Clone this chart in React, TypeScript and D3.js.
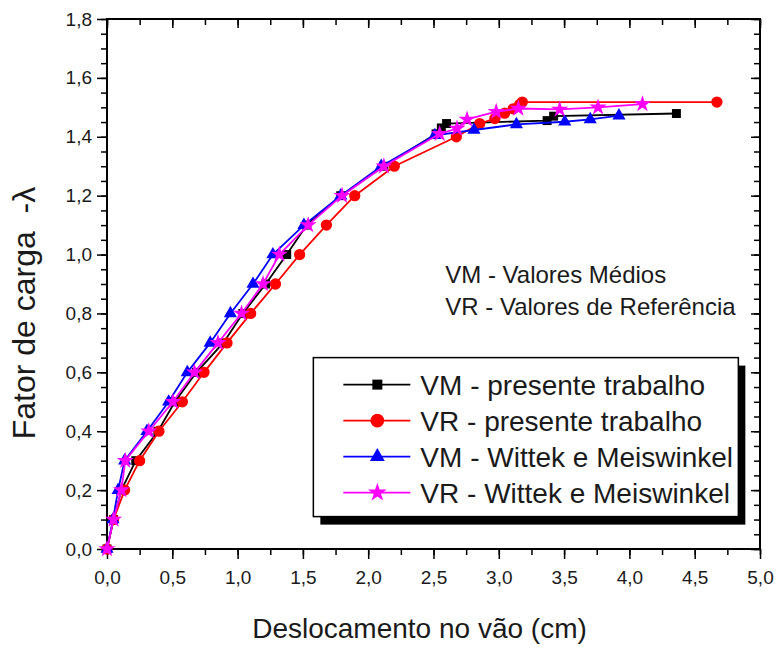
import { useRef, useEffect } from 'react'
import * as d3 from 'd3'

const W = 777
const H = 650
const MARGIN = { top: 19, right: 17, bottom: 101, left: 107 }
const FONT = '"Liberation Sans", Arial, sans-serif'

// tick labels
const X_TICKS = [0, 0.5, 1.0, 1.5, 2.0, 2.5, 3.0, 3.5, 4.0, 4.5, 5.0]
const Y_TICKS = [0, 0.2, 0.4, 0.6, 0.8, 1.0, 1.2, 1.4, 1.6, 1.8]

// VM - presente trabalho
const vmPresX = [0, 0.05, 0.11, 0.22, 0.39, 0.52, 0.685, 0.89, 1.04, 1.215, 1.376, 1.53, 1.79, 2.12, 2.52, 2.56, 2.6, 3.37, 3.42, 4.36]
const vmPresY = [0, 0.1, 0.2, 0.3, 0.4, 0.5, 0.6, 0.7, 0.8, 0.9, 1.0, 1.1, 1.2, 1.3, 1.41, 1.43, 1.445, 1.455, 1.47, 1.479]

// VR - presente trabalho
const vrPresX = [0, 0.05, 0.135, 0.25, 0.398, 0.577, 0.743, 0.919, 1.1, 1.29, 1.475, 1.68, 1.897, 2.2, 2.675, 2.854, 2.97, 3.045, 3.11, 3.16, 3.18, 4.67]
const vrPresY = [0, 0.1, 0.2, 0.3, 0.4, 0.5, 0.6, 0.7, 0.8, 0.9, 1.0, 1.1, 1.2, 1.3, 1.4, 1.445, 1.462, 1.48, 1.495, 1.51, 1.518, 1.518]

// VM - Wittek e Meiswinkel
const vmWitX = [0, 0.046, 0.085, 0.135, 0.306, 0.472, 0.615, 0.79, 0.945, 1.118, 1.27, 1.508, 1.79, 2.1, 2.51, 2.81, 3.135, 3.505, 3.7, 3.92]
const vmWitY = [0, 0.1, 0.2, 0.3, 0.4, 0.5, 0.6, 0.7, 0.8, 0.9, 1.0, 1.1, 1.2, 1.3, 1.405, 1.423, 1.442, 1.451, 1.459, 1.472]

// VR - Wittek e Meiswinkel
const vrWitX = [0, 0.05, 0.11, 0.14, 0.32, 0.505, 0.67, 0.85, 1.03, 1.195, 1.32, 1.54, 1.8, 2.12, 2.547, 2.68, 2.757, 2.98, 3.15, 3.466, 3.76, 4.1]
const vrWitY = [0, 0.1, 0.2, 0.3, 0.4, 0.5, 0.6, 0.7, 0.8, 0.9, 1.0, 1.1, 1.2, 1.3, 1.41, 1.428, 1.459, 1.485, 1.496, 1.493, 1.5, 1.511]

const SERIES = [
  { label: 'VM - presente trabalho', xs: vmPresX, ys: vmPresY, color: '#000000', symbol: d3.symbolSquare, size: 80, legendSize: 100 },
  { label: 'VR - presente trabalho', xs: vrPresX, ys: vrPresY, color: '#ff0000', symbol: d3.symbolCircle, size: 100, legendSize: 150 },
  { label: 'VM - Wittek e Meiswinkel', xs: vmWitX, ys: vmWitY, color: '#0000ff', symbol: d3.symbolTriangle, size: 75, legendSize: 95 },
  { label: 'VR - Wittek e Meiswinkel', xs: vrWitX, ys: vrWitY, color: '#ff00ff', symbol: d3.symbolStar, size: 90, legendSize: 110 },
]

const fmt = (d: number) => d.toFixed(1).replace('.', ',')

export default function App() {
  const svgRef = useRef<SVGSVGElement>(null)

  useEffect(() => {
    const svg = d3.select(svgRef.current)
    svg.selectAll('*').remove()

    const iw = W - MARGIN.left - MARGIN.right
    const ih = H - MARGIN.top - MARGIN.bottom
    const x = d3.scaleLinear().domain([0, 5]).range([0, iw])
    const y = d3.scaleLinear().domain([0, 1.8]).range([ih, 0])

    const g = svg.append('g').attr('transform', `translate(${MARGIN.left},${MARGIN.top})`)

    const xMinor = d3.range(0, 21).map(i => i * 0.25)
    const yMinor = d3.range(0, 37).map(i => i * 0.05)

    const style = (sel: any) => {
      sel.select('.domain').remove()
      sel.selectAll('line').attr('stroke', '#000').attr('stroke-width', 1.5)
      sel.selectAll('text').attr('font-family', FONT).attr('font-size', 19).attr('fill', '#1a1a1a')
    }

    // minor ticks
    g.append('g').attr('transform', `translate(0,${ih})`)
      .call(d3.axisBottom(x).tickValues(xMinor).tickSize(6).tickFormat(() => ''))
      .call(style)
    g.append('g')
      .call(d3.axisLeft(y).tickValues(yMinor).tickSize(6).tickFormat(() => ''))
      .call(style)
    g.append('g')
      .call(d3.axisTop(x).tickValues(xMinor).tickSize(-6).tickFormat(() => ''))
      .call(style)
    g.append('g').attr('transform', `translate(${iw},0)`)
      .call(d3.axisRight(y).tickValues(yMinor).tickSize(-6).tickFormat(() => ''))
      .call(style)

    // major ticks + labels
    g.append('g').attr('transform', `translate(0,${ih})`)
      .call(d3.axisBottom(x).tickValues(X_TICKS).tickSize(10).tickPadding(12).tickFormat(d => fmt(+d)))
      .call(style)
    g.append('g')
      .call(d3.axisLeft(y).tickValues(Y_TICKS).tickSize(10).tickPadding(5).tickFormat(d => fmt(+d)))
      .call(style)
    g.append('g')
      .call(d3.axisTop(x).tickValues(X_TICKS).tickSize(-9).tickFormat(() => ''))
      .call(style)
    g.append('g').attr('transform', `translate(${iw},0)`)
      .call(d3.axisRight(y).tickValues(Y_TICKS).tickSize(-9).tickFormat(() => ''))
      .call(style)

    // frame
    g.append('rect').attr('width', iw).attr('height', ih)
      .attr('fill', 'none').attr('stroke', '#000').attr('stroke-width', 2)

    // annotation
    const note = g.append('g').attr('font-family', FONT).attr('font-size', 24).attr('fill', '#1a1a1a')
    note.append('text').attr('x', x(2.59)).attr('y', y(0.904)).text('VM - Valores Médios')
    note.append('text').attr('x', x(2.59)).attr('y', y(0.795)).text('VR - Valores de Referência')

    // series
    const line = d3.line<[number, number]>().x(d => x(d[0])).y(d => y(d[1]))
    SERIES.forEach(s => {
      const pts: [number, number][] = s.xs.map((v, i) => [v, s.ys[i]])
      g.append('path').datum(pts).attr('d', line)
        .attr('fill', 'none').attr('stroke', s.color).attr('stroke-width', 1.8)
      g.append('g').selectAll('path').data(pts).join('path')
        .attr('transform', d => `translate(${x(d[0])},${y(d[1])})`)
        .attr('d', d3.symbol().type(s.symbol).size(s.size)())
        .attr('fill', s.color)
    })

    // legend
    const lx = x(1.58), ly = y(0.65), lw = 425, lh = 159
    const leg = g.append('g').attr('transform', `translate(${lx},${ly})`)
    leg.append('rect').attr('x', 7).attr('y', 8).attr('width', lw).attr('height', lh).attr('fill', '#000')
    leg.append('rect').attr('width', lw).attr('height', lh)
      .attr('fill', '#fff').attr('stroke', '#000').attr('stroke-width', 1.5)
    SERIES.forEach((s, i) => {
      const ry = 27 + i * 36
      leg.append('line').attr('x1', 30).attr('x2', 97).attr('y1', ry).attr('y2', ry)
        .attr('stroke', s.color).attr('stroke-width', 1.8)
      leg.append('path').attr('transform', `translate(64,${ry})`)
        .attr('d', d3.symbol().type(s.symbol).size(s.legendSize)())
        .attr('fill', s.color)
      leg.append('text').attr('x', 107).attr('y', ry + 10)
        .attr('font-family', FONT).attr('font-size', 28).attr('fill', '#1a1a1a')
        .text(s.label)
    })

    // axis titles
    svg.append('text')
      .attr('x', MARGIN.left + iw / 2 - 14).attr('y', 638)
      .attr('text-anchor', 'middle').attr('font-family', FONT).attr('font-size', 28).attr('fill', '#1a1a1a')
      .text('Deslocamento no vão (cm)')
    svg.append('text')
      .attr('transform', `translate(35,313) rotate(-90)`)
      .attr('text-anchor', 'middle').attr('font-family', FONT).attr('font-size', 32).attr('fill', '#1a1a1a')
      .attr('xml:space', 'preserve').style('white-space', 'pre')
      .text('Fator de carga  -λ')
  }, [])

  return (
    <svg ref={svgRef} width={W} height={H}
      style={{ position: 'absolute', left: 0, top: 0, background: '#fff' }} />
  )
}
